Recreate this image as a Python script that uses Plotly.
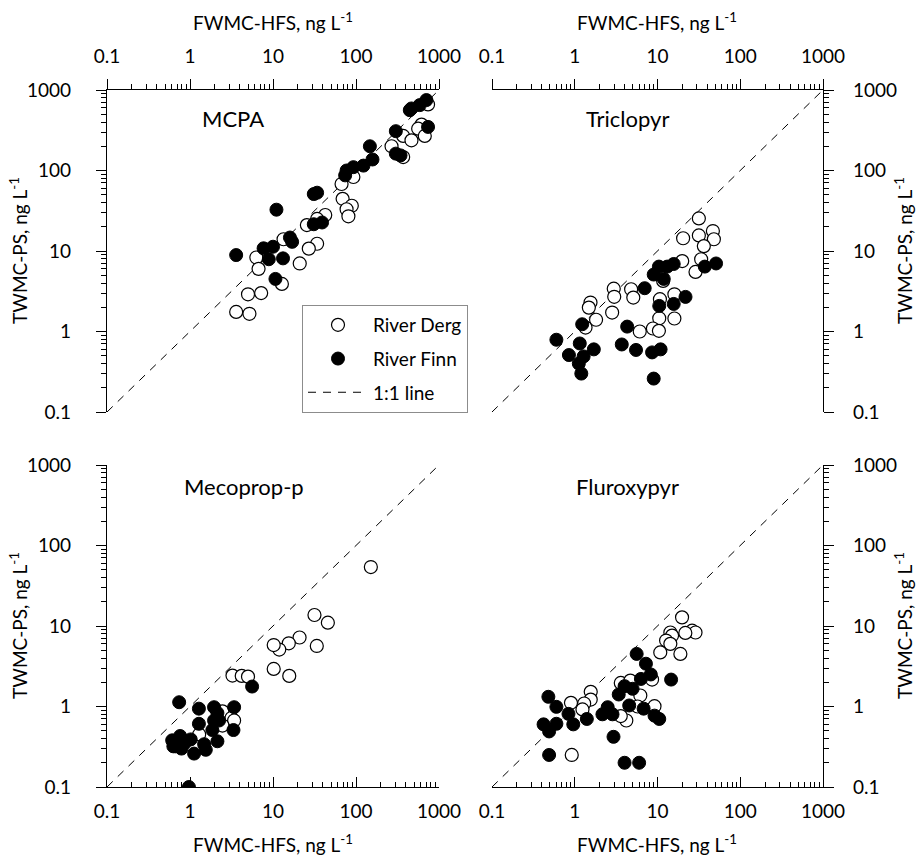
import plotly.graph_objects as go

# ---------------- data ----------------
TICK_VALUES = [0.1, 1, 10, 100, 1000]
TICK_LABELS = ["0.1", "1", "10", "100", "1000"]
ONE_TO_ONE = [0.1, 1000]

# MCPA
mcpa_derg_x = [738, 616, 561, 674, 370, 466, 268, 370, 93, 67, 69, 89, 77, 81, 42.6, 34, 25.6,
               13.4, 34, 27, 21, 6.3, 6.7, 12.8, 5.0, 7.2, 3.6, 5.2]
mcpa_derg_y = [662, 372, 331, 269, 269, 237, 200, 147, 83, 68, 44.5, 36.5, 33, 27, 28, 25, 21,
               14, 12.3, 10.7, 7, 8.3, 6, 3.9, 2.9, 3.0, 1.75, 1.66]
mcpa_finn_x = [705, 586, 466, 445, 738, 302, 302, 344, 147, 158, 123, 93, 77, 74, 34, 31, 39, 31,
               11, 16, 17, 10, 7.7, 3.6, 8.9, 13.2, 10.7]
mcpa_finn_y = [750, 649, 590, 562, 348, 308, 162, 154, 200, 137, 115, 110, 100, 87, 53, 51, 22.6,
               21.5, 32.6, 14.7, 13, 11.3, 10.8, 8.9, 7.9, 8.1, 4.5]

# Triclopyr
tric_derg_x = [31.6, 20.4, 31.6, 46.7, 48, 36.3, 33.7, 19.9, 28.8, 11.7, 2.96, 3.0, 4.8, 5.1, 1.55,
               1.48, 1.81, 2.83, 1.35, 10.7, 16, 10.5, 16, 6.1, 8.8, 10.4]
tric_derg_y = [25.4, 14.4, 15.6, 17.7, 14, 11.5, 7.9, 7.5, 5.5, 4.25, 3.4, 2.7, 3.35, 2.64, 2.29,
               1.98, 1.4, 1.72, 1.12, 2.52, 2.9, 1.46, 1.45, 1.0, 1.09, 1.02]
tric_finn_x = [51, 37.3, 15.7, 13.1, 10.4, 9.0, 11.9, 7.0, 21.8, 15.7, 10.5, 4.3, 1.23, 0.6, 1.15,
               1.7, 0.85, 1.28, 1.12, 1.2, 3.7, 5.5, 8.6, 10.9, 9.0]
tric_finn_y = [7, 6.4, 6.9, 6.4, 6.4, 5.1, 4.5, 3.45, 2.69, 2.2, 2.08, 1.15, 1.23, 0.79, 0.71, 0.6,
               0.51, 0.49, 0.4, 0.3, 0.69, 0.59, 0.55, 0.6, 0.26]

# Mecoprop-p
meco_derg_x = [151, 31.6, 45.8, 20.9, 15.5, 11.9, 10.2, 33.7, 10.2, 15.7, 3.25, 4.2, 5.0, 2.46,
               3.16, 3.4, 2.46, 1.29]
meco_derg_y = [54, 13.7, 11, 7.2, 6.1, 5.1, 5.8, 5.65, 2.93, 2.4, 2.42, 2.4, 2.35, 0.87, 0.72,
               0.67, 0.58, 0.45]
meco_finn_x = [5.6, 0.74, 1.28, 1.95, 3.4, 2.14, 1.95, 1.28, 2.24, 3.34, 1.86, 0.76, 0.61, 1.02,
               0.67, 0.86, 0.79, 1.48, 2.14, 1.55, 1.12, 0.63, 0.97]
meco_finn_y = [1.77, 1.13, 0.94, 0.98, 0.98, 0.83, 0.67, 0.61, 0.67, 0.51, 0.51, 0.43, 0.38, 0.39,
               0.32, 0.35, 0.30, 0.34, 0.37, 0.29, 0.26, 0.32, 0.1]

# Fluroxypyr
flur_derg_x = [19.8, 26.2, 28.8, 21.7, 14.3, 15, 12.7, 14.3, 10.8, 18.9, 8.6, 3.6, 4.7, 6.2, 1.56,
               1.56, 1.3, 0.9, 1.24, 9.2, 4.2, 3.6, 5.75, 0.92]
flur_derg_y = [12.8, 8.75, 8.3, 8.2, 8.3, 7.6, 6.6, 6.0, 4.7, 4.5, 2.16, 1.96, 2.1, 1.37, 1.52,
               1.22, 1.09, 1.11, 0.92, 1.01, 0.67, 0.76, 1.0, 0.25]
flur_finn_x = [5.6, 7.25, 6.3, 8.3, 14.6, 4.0, 5.0, 3.4, 4.55, 6.8, 2.5, 2.16, 2.86, 9.2, 10.5, 1.4,
               0.84, 0.96, 0.6, 0.48, 0.42, 0.49, 0.6, 2.94, 0.49, 4.0, 6.0]
flur_finn_y = [4.5, 3.4, 2.2, 2.5, 2.16, 1.79, 1.66, 1.41, 1.03, 0.94, 0.98, 0.8, 0.8, 0.77, 0.7,
               0.7, 0.81, 0.6, 0.99, 1.32, 0.6, 0.49, 0.61, 0.42, 0.25, 0.2, 0.2]

PANELS = [
    ("MCPA", mcpa_derg_x, mcpa_derg_y, mcpa_finn_x, mcpa_finn_y),
    ("Triclopyr", tric_derg_x, tric_derg_y, tric_finn_x, tric_finn_y),
    ("Mecoprop-p", meco_derg_x, meco_derg_y, meco_finn_x, meco_finn_y),
    ("Fluroxypyr", flur_derg_x, flur_derg_y, flur_finn_x, flur_finn_y),
]

# ---------------- layout geometry ----------------
W, H = 920, 858
FONT = "Lato"
TICK_SIZE = 19
px_x = [(107, 439), (492, 823), (107, 439), (492, 823)]
px_y = [(90, 412), (90, 412), (465, 787), (465, 787)]

def xdom(p):
    return [p[0] / W, p[1] / W]

def ydom(p):
    return [(H - p[1]) / H, (H - p[0]) / H]

MINOR_VALS = [k * 10 ** e for e in range(-1, 3) for k in range(2, 10)]

fig = go.Figure()

for i, (name, dx, dy, fx, fy) in enumerate(PANELS):
    n = "" if i == 0 else str(i + 1)
    xa, ya = "x" + n, "y" + n
    first = i == 0
    fig.add_trace(go.Scatter(
        x=ONE_TO_ONE, y=ONE_TO_ONE, mode="lines", xaxis=xa, yaxis=ya,
        line=dict(color="black", width=1, dash="8px,7px"),
        name="1:1 line", showlegend=first, legendgroup="c", legendrank=3,
        hoverinfo="skip"))
    fig.add_trace(go.Scatter(
        x=dx, y=dy, mode="markers", xaxis=xa, yaxis=ya,
        marker=dict(size=13, color="white", line=dict(color="black", width=1.2)),
        name="River Derg", showlegend=first, legendgroup="a", legendrank=1))
    fig.add_trace(go.Scatter(
        x=fx, y=fy, mode="markers", xaxis=xa, yaxis=ya,
        marker=dict(size=13, color="black", line=dict(color="black", width=1)),
        name="River Finn", showlegend=first, legendgroup="b", legendrank=2))

def axis_common(ticks):
    return dict(
        type="log", range=[-1, 3], showline=True, linecolor="black", linewidth=1.2,
        ticks=ticks, ticklen=10, tickwidth=1.2, tickcolor="black",
        tickvals=TICK_VALUES, ticktext=TICK_LABELS, automargin=False,
        minor=dict(ticks=ticks, ticklen=5, tickwidth=1, tickcolor="black",
                   tickvals=MINOR_VALS, showgrid=False),
        showgrid=False, zeroline=False,
        tickfont=dict(family=FONT, size=TICK_SIZE, color="black"),
    )

layout_axes = {}
for i in range(4):
    n = "" if i == 0 else str(i + 1)
    top = i < 2
    right = i % 2 == 1
    layout_axes["xaxis" + n] = dict(
        axis_common("outside" if top else "inside"),
        domain=xdom(px_x[i]), anchor="y" + n,
        side="top" if top else "bottom",
        ticklabelstandoff=8 if top else 7)
    layout_axes["yaxis" + n] = dict(
        axis_common("outside"), domain=ydom(px_y[i]), anchor="x" + n,
        side="right" if right else "left",
        ticklabelstandoff=21 if not right else 15)

annotations = []
xt = "FWMC-HFS, ng L<sup>-1</sup>"
yt = "TWMC-PS, ng L<sup>-1</sup>"
AX_TITLE = 19
for cx in [273, 657]:
    annotations.append(dict(text=xt, x=cx / W, y=(H - 21) / H, xref="paper", yref="paper",
                            showarrow=False, xanchor="center", yanchor="middle",
                            font=dict(family=FONT, size=AX_TITLE, color="black")))
    annotations.append(dict(text=xt, x=cx / W, y=(H - 843) / H, xref="paper", yref="paper",
                            showarrow=False, xanchor="center", yanchor="middle",
                            font=dict(family=FONT, size=AX_TITLE, color="black")))
for cx in [18, 903]:
    for cy in [251, 626]:
        annotations.append(dict(text=yt, x=cx / W, y=(H - cy) / H, xref="paper", yref="paper",
                                showarrow=False, xanchor="center", yanchor="middle",
                                textangle=-90,
                                font=dict(family=FONT, size=AX_TITLE, color="black")))
title_pos = [(233, 118), (627, 118), (244, 486), (627, 486)]
for (name, *_), (tx, ty) in zip(PANELS, title_pos):
    annotations.append(dict(text=name, x=tx / W, y=(H - ty) / H, xref="paper", yref="paper",
                            showarrow=False, xanchor="center", yanchor="middle",
                            font=dict(family=FONT, size=22, color="black")))

fig.update_layout(
    width=W, height=H, margin=dict(l=0, r=0, t=0, b=0),
    paper_bgcolor="white", plot_bgcolor="white",
    font=dict(family=FONT, color="black"),
    annotations=annotations,
    legend=dict(x=302 / W, y=(H - 305) / H, xanchor="left", yanchor="top",
                bgcolor="white", bordercolor="#8c8c8c", borderwidth=1,
                font=dict(family=FONT, size=19, color="black"),
                traceorder="grouped", tracegroupgap=6, itemwidth=60),
    **layout_axes,
)

fig.write_html(
    "out.html",
    config={"displayModeBar": False},
    post_script="document.body.style.margin='0';document.body.style.padding='0';"
                "document.documentElement.style.overflow='hidden';",
)
